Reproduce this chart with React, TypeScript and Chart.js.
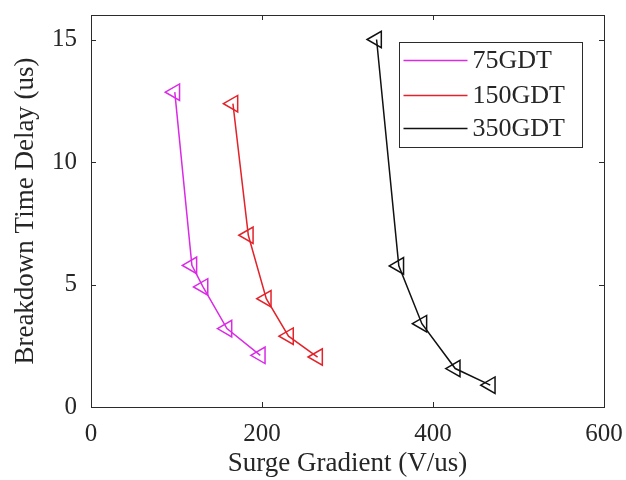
import React, { useEffect, useRef } from "react";
import { Chart, registerables } from "chart.js";

Chart.register(...registerables);

const seriesNames = ["75GDT", "150GDT", "350GDT"];
const seriesColors = ["#DA2AE6", "#E3222A", "#111111"];

const gdt75X = [98, 118, 131, 159, 198];
const gdt75Y = [12.85, 5.78, 4.9, 3.2, 2.11];
const gdt150X = [166, 184, 205, 231, 265];
const gdt150Y = [12.38, 7.01, 4.42, 2.89, 2.04];
const gdt350X = [334, 360, 387, 426, 467];
const gdt350Y = [15.0, 5.76, 3.4, 1.57, 0.89];

const xTicks = [0, 200, 400, 600];
const yTicks = [0, 5, 10, 15];

const xTitle = "Surge Gradient (V/us)";
const yTitle = "Breakdown Time Delay (us)";

const FONT = '"Liberation Serif", "Times New Roman", serif';
const TEXT = "#262626";

const toPoints = (xs: number[], ys: number[]) => xs.map((x, i) => ({ x, y: ys[i] }));

const framePlugin = {
  id: "matlabFrame",
  afterDatasetsDraw(chart: any) {
    const { ctx, chartArea: ca, scales } = chart;
    const xs = scales.x;
    const ys = scales.y;
    ctx.save();
    ctx.strokeStyle = "#2b2b2b";
    ctx.lineWidth = 1;
    ctx.strokeRect(Math.round(ca.left) + 0.5, Math.round(ca.top) + 0.5, Math.round(ca.right - ca.left), Math.round(ca.bottom - ca.top));
    const tl = 5;
    ctx.beginPath();
    xTicks.forEach((v) => {
      const px = Math.round(xs.getPixelForValue(v)) + 0.5;
      ctx.moveTo(px, ca.bottom);
      ctx.lineTo(px, ca.bottom - tl);
      ctx.moveTo(px, ca.top);
      ctx.lineTo(px, ca.top + tl);
    });
    yTicks.forEach((v) => {
      const py = Math.round(ys.getPixelForValue(v)) + 0.5;
      ctx.moveTo(ca.left, py);
      ctx.lineTo(ca.left + tl, py);
      ctx.moveTo(ca.right, py);
      ctx.lineTo(ca.right - tl, py);
    });
    ctx.stroke();

    // legend box (inside axes, top-right)
    const right = Math.round(ca.right - 22) + 0.5;
    const left = 399.5;
    const top = Math.round(ca.top + 27) + 0.5;
    const bottom = top + 105;
    ctx.fillStyle = "#ffffff";
    ctx.fillRect(left, top, right - left, bottom - top);
    ctx.strokeStyle = "#2b2b2b";
    ctx.lineWidth = 1;
    ctx.strokeRect(left, top, right - left, bottom - top);
    const rows = [top + 18, top + 53, top + 86];
    ctx.font = `26px ${FONT}`;
    ctx.textBaseline = "middle";
    ctx.textAlign = "left";
    seriesNames.forEach((name, i) => {
      ctx.strokeStyle = seriesColors[i];
      ctx.lineWidth = 1.5;
      ctx.beginPath();
      ctx.moveTo(left + 4, rows[i]);
      ctx.lineTo(left + 68, rows[i]);
      ctx.stroke();
      ctx.fillStyle = TEXT;
      ctx.fillText(name, left + 73, rows[i] + 1);
    });
    ctx.restore();
  },
};

const zeroPad = (s: any) => {
  s.paddingTop = 0;
  s.paddingBottom = 0;
  s.paddingLeft = 0;
  s.paddingRight = 0;
};

export default function App() {
  const ref = useRef<HTMLCanvasElement | null>(null);

  useEffect(() => {
    if (!ref.current) return;
    const xsList = [gdt75X, gdt150X, gdt350X];
    const ysList = [gdt75Y, gdt150Y, gdt350Y];
    const chart = new Chart(ref.current, {
      type: "line",
      data: {
        datasets: seriesNames.map((name, i) => ({
          label: name,
          data: toPoints(xsList[i], ysList[i]),
          borderColor: seriesColors[i],
          backgroundColor: "rgba(0,0,0,0)",
          borderWidth: 1.5,
          tension: 0,
          pointStyle: "triangle",
          pointRotation: -90,
          pointRadius: 9.5,
          pointHoverRadius: 9.5,
          pointBorderWidth: 1.5,
          pointBorderColor: seriesColors[i],
          pointBackgroundColor: "rgba(0,0,0,0)",
          fill: false,
          clip: false as any,
        })),
      },
      options: {
        responsive: false,
        animation: false,
        events: [],
        layout: { padding: { top: 15, right: 22, left: 0, bottom: 0 } },
        plugins: {
          legend: { display: false },
          tooltip: { enabled: false },
        },
        scales: {
          x: {
            type: "linear",
            min: 0,
            max: 600,
            grid: { display: false, drawTicks: false },
            border: { display: false },
            ticks: {
              stepSize: 200,
              includeBounds: false,
              padding: 12,
              color: TEXT,
              font: { family: FONT, size: 25 },
              maxRotation: 0,
              callback: (v: any) => String(v),
            },
            title: {
              display: true,
              text: xTitle,
              color: TEXT,
              font: { family: FONT, size: 27 },
              padding: { top: 0, bottom: 0 },
            },
            afterFit: (s: any) => {
              s.height = 73;
              zeroPad(s);
            },
          },
          y: {
            type: "linear",
            min: 0,
            max: 16,
            grid: { display: false, drawTicks: false },
            border: { display: false },
            ticks: {
              stepSize: 5,
              includeBounds: false,
              padding: 14,
              color: TEXT,
              font: { family: FONT, size: 25 },
              callback: (v: any) => String(v),
            },
            title: {
              display: true,
              text: yTitle,
              color: TEXT,
              font: { family: FONT, size: 27 },
              padding: { top: 10, bottom: 0 },
            },
            afterFit: (s: any) => {
              s.width = 91;
              zeroPad(s);
            },
          },
        },
      },
      plugins: [framePlugin],
    });
    return () => chart.destroy();
  }, []);

  return (
    <div style={{ position: "fixed", left: 0, top: 0, width: 626, height: 480, background: "#fff" }}>
      <canvas ref={ref} width={626} height={480} style={{ display: "block", width: 626, height: 480 }} />
    </div>
  );
}
